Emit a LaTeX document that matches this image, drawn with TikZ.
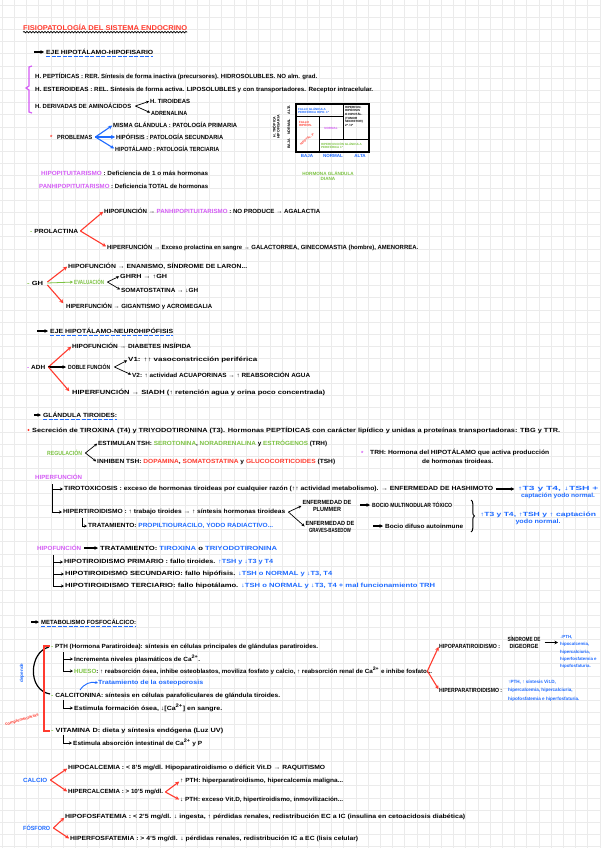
\documentclass[tikz,border=0pt]{standalone}
\usepackage{fontspec}
\setmainfont{Liberation Sans}
\usepackage{graphicx}
\usetikzlibrary{arrows.meta, positioning, decorations.pathmorphing, decorations.pathreplacing, calc}

\definecolor{nred}{HTML}{FF3B2F}
\definecolor{nblue}{HTML}{1F6BFF}
\definecolor{ngreen}{HTML}{7CC242}
\definecolor{npurp}{HTML}{D45CF5}
\definecolor{gridc}{HTML}{EBEBEB}

\newcommand{\nf}{\fontsize{6}{7}\selectfont\bfseries}
\newcommand{\tf}{\fontsize{3}{3.6}\selectfont\bfseries}
\newcommand{\fitto}[2]{\resizebox{#1pt}{\height}{#2}}

\tikzset{
  txt/.style={anchor=west, inner sep=0pt, font=\nf},
  redarr/.style={nred, line width=1.1pt, shorten >=1pt, -{Stealth[length=4pt, width=4pt]}},
  bluearr/.style={nblue, line width=1.1pt, shorten >=1pt, -{Stealth[length=4pt, width=4pt]}},
  grnarr/.style={ngreen, line width=0.8pt, shorten >=1pt, -{Stealth[length=3pt, width=3pt]}},
  blkarr/.style={black, line width=0.7pt, shorten >=1pt, -{Stealth[length=3pt, width=3pt]}},
  headarr/.style={black, line width=1.1pt, shorten >=2pt, -{Stealth[length=3.5pt, width=3.5pt]}},
  uline/.style={nblue, line width=1pt, dash pattern=on 4pt off 1.5pt},
}

\begin{document}
\begin{tikzpicture}[x=1pt, y=-1pt]
\useasboundingbox (0,0) rectangle (601,848);
\fill[white] (0,0) rectangle (601,848);
% cuadricula
\foreach \gx in {0,...,49} \draw[gridc, line width=0.8pt] ({2.2+12.2*\gx},0) -- ({2.2+12.2*\gx},848);
\foreach \gy in {0,...,69} \draw[gridc, line width=0.8pt] (0,{5+12.2*\gy}) -- (601,{5+12.2*\gy});

% titulo
\node[txt, font=\fontsize{7}{8}\selectfont\bfseries, nred] (title) at (23,27) {\fitto{164}{FISIOPATOLOGÍA DEL SISTEMA ENDOCRINO}};
\draw[line width=0.7pt, decorate, decoration={snake, amplitude=0.7pt, segment length=3pt}] ([yshift=-1.8pt]title.south west) -- ([yshift=-1.8pt]title.south east);

% eje hipotalamo-hipofisario
\coordinate (h1a) at (34,52);
\node[txt] (h1) at (46,52) {\fitto{107}{EJE HIPOTÁLAMO-HIPOFISARIO}};
\draw[headarr] (h1a) -- (h1.west);
\draw[uline] ([yshift=-1.5pt]h1.south west) -- ([yshift=-1.5pt]h1.south east);

\draw[npurp, line width=1.2pt] (32,66) -- (29,67) -- (29,86) -- (26,88) -- (29,90) -- (29,112) -- (32,113);
\node[txt] (hpep) at (35,76) {\fitto{282}{H. PEPTÍDICAS : RER. Síntesis de forma inactiva (precursores). HIDROSOLUBLES. NO alm. grad.}};
\node[txt] (hest) at (35,90) {\fitto{338}{H. ESTEROIDEAS : REL. Síntesis de forma activa. LIPOSOLUBLES y con transportadores. Receptor intracelular.}};
\node[txt] (hder) at (35,106) {\fitto{96}{H. DERIVADAS DE AMINOÁCIDOS}};
\node[txt] (htir) at (150,101) {\fitto{40}{H. TIROIDEAS}};
\node[txt] (hadr) at (151,113) {\fitto{36}{ADRENALINA}};
\draw[blkarr] ([xshift=4pt]hder.east) -- (htir.west);
\draw[blkarr] ([xshift=4pt]hder.east) -- (hadr.west);

\node[txt, nred] (star1) at (50,137) {*};
\node[txt] (prob) at (57,137) {\fitto{35}{PROBLEMAS}};
\node[txt] (pr1) at (113,125) {\fitto{124}{MISMA GLÁNDULA : PATOLOGÍA PRIMARIA}};
\node[txt] (pr2) at (116,137) {\fitto{107}{HIPÓFISIS : PATOLOGÍA SECUNDARIA}};
\node[txt] (pr3) at (115,149) {\fitto{104}{HIPOTÁLAMO : PATOLOGÍA TERCIARIA}};
\foreach \p in {pr1,pr2,pr3}
  \draw[bluearr] ([xshift=3pt]prob.east) -- (\p.west);

% tabla hormonas
\draw[line width=1.3pt] (296,104) rectangle (369,152);
\draw[line width=1pt] (296,117) -- (343,117) (343,104) -- (343,139)
  (319,117) -- (319,152) (319,139) -- (369,139);
\node[anchor=west, inner sep=0pt, font=\tf, nblue, align=left] (cblue) at (298,110.5) {FALLO GLÁNDULA\\PERIFÉRICA HIPO. 1ª};
\node[anchor=north west, inner sep=0pt, font=\tf, align=left] (cblack) at (345,106) {HIPERFUN.\\HIPÓFISIS\\O HIPOTÁL.\\(TUMOR\\SECRETOR)\\2ª / 3ª};
\node[anchor=north west, inner sep=0pt, font=\tf, nred, align=left] (cred) at (299,121) {FALLO\\HIPÓFIS.};
\node[inner sep=0pt, font=\tf, nred, rotate=40] (credr) at (307,139) {HIPOTÁL. 3ª};
\node[inner sep=0pt, font=\tf, npurp] (cpurp) at (331,128) {NORMAL};
\node[anchor=west, inner sep=0pt, font=\tf, ngreen, align=left] (cgreen) at (321,145.5) {HIPERFUNCIÓN GLÁNDULA\\PERIFÉRICA 1ª};
\node[inner sep=0pt, font=\fontsize{3.6}{4}\selectfont\bfseries, align=center, rotate=90] (ltrop) at (276,127) {H. TRÓPICA\\HIPOFISARIA};
\node[inner sep=0pt, font=\fontsize{3.6}{4}\selectfont\bfseries, rotate=90] (lalta) at (289,110) {ALTA};
\node[inner sep=0pt, font=\fontsize{3.6}{4}\selectfont\bfseries, rotate=90] (lnorm) at (289,127) {NORMAL};
\node[inner sep=0pt, font=\fontsize{3.6}{4}\selectfont\bfseries, rotate=90] (lbaja) at (289,144) {BAJA};
\node[inner sep=0pt, font=\fontsize{4.5}{5}\selectfont\bfseries, nblue] (bbaja) at (307,156) {BAJA};
\node[inner sep=0pt, font=\fontsize{4.5}{5}\selectfont\bfseries, nblue] (bnorm) at (333,156) {NORMAL};
\node[inner sep=0pt, font=\fontsize{4.5}{5}\selectfont\bfseries, nblue] (balta) at (360,156) {ALTA};
\node[inner sep=0pt, font=\fontsize{4.6}{5.8}\selectfont\bfseries, ngreen, align=center] (gdiana) at (328,176) {HORMONA GLÁNDULA\\DIANA};

% hipopituitarismo
\node[txt] (hipop) at (41,173) {\fitto{167}{\textcolor{npurp}{HIPOPITUITARISMO} : Deficiencia de 1 o más hormonas}};
\node[txt] (panh) at (39,186) {\fitto{169}{\textcolor{npurp}{PANHIPOPITUITARISMO} : Deficiencia TOTAL de hormonas}};

% prolactina
\node[txt] (prl) at (30,231) {\fitto{48}{\textcolor{ngreen}{-} PROLACTINA}};
\node[txt] (prlhipo) at (104,211) {\fitto{216}{HIPOFUNCIÓN → \textcolor{npurp}{PANHIPOPITUITARISMO} : NO PRODUCE → AGALACTIA}};
\node[txt] (prlhiper) at (107,247) {\fitto{311}{HIPERFUNCIÓN → Exceso prolactina en sangre → GALACTORREA, GINECOMASTIA (hombre), AMENORREA.}};
\draw[redarr] ([xshift=2pt]prl.east) -- (prlhipo.west);
\draw[redarr] ([xshift=2pt]prl.east) -- (prlhiper.west);

% GH
\node[txt] (gh) at (27,283) {\fitto{16}{\textcolor{ngreen}{-} GH}};
\node[txt] (ghhipo) at (68,266) {\fitto{179}{HIPOFUNCIÓN → ENANISMO, SÍNDROME DE LARON...}};
\node[txt, ngreen] (gheval) at (74,282) {\fitto{30}{EVALUACIÓN}};
\node[txt] (ghrh) at (120,276) {\fitto{47}{GHRH → ↑GH}};
\node[txt] (ghsom) at (121,290) {\fitto{77}{SOMATOSTATINA → ↓GH}};
\node[txt] (ghhiper) at (66,306) {\fitto{146}{HIPERFUNCIÓN → GIGANTISMO y ACROMEGALIA}};
\draw[redarr] ([xshift=4pt,yshift=1pt]gh.east) -- (ghhipo.west);
\draw[grnarr] ([xshift=4pt]gh.east) -- (gheval.west);
\draw[redarr] ([xshift=4pt,yshift=-2pt]gh.east) -- ([xshift=-2pt,yshift=2pt]ghhiper.west);
\draw[blkarr] ([xshift=3pt]gheval.east) -- (ghrh.west);
\draw[blkarr] ([xshift=3pt]gheval.east) -- (ghsom.west);

% eje hipotalamo-neurohipofisis
\coordinate (h2a) at (37,331);
\node[txt] (h2) at (50,331) {\fitto{123}{EJE HIPOTÁLAMO-NEUROHIPÓFISIS}};
\draw[headarr] (h2a) -- (h2.west);
\draw[uline] ([yshift=-1.5pt]h2.south west) -- ([yshift=-1.5pt]h2.south east);

% ADH
\node[txt] (adh) at (27,367) {\fitto{18}{\textcolor{npurp}{-} ADH}};
\node[txt] (adhhipo) at (72,346) {\fitto{119}{HIPOFUNCIÓN → DIABETES INSÍPIDA}};
\node[txt] (adhdob) at (68,367) {\fitto{42}{DOBLE FUNCIÓN}};
\node[txt] (adhv1) at (128,360) {\fitto{129}{V1: ↑↑ vasoconstricción periférica}};
\node[txt] (adhv2) at (132,375) {\fitto{178}{V2: ↑ actividad ACUAPORINAS → ↑ REABSORCIÓN AGUA}};
\node[txt] (adhhiper) at (72,392) {\fitto{253}{HIPERFUNCIÓN → SIADH (↑ retención agua y orina poco concentrada)}};
\draw[redarr] ([xshift=3pt]adh.east) -- (adhhipo.west);
\draw[headarr] ([xshift=3pt]adh.east) -- (adhdob.west);
\draw[redarr] ([xshift=3pt]adh.east) -- ([xshift=-2pt]adhhiper.west);
\draw[blkarr] ([xshift=4pt]adhdob.east) -- (adhv1.west);
\draw[blkarr] ([xshift=4pt]adhdob.east) -- (adhv2.west);

% glandula tiroides
\coordinate (h3a) at (34,415);
\node[txt] (h3) at (43,415) {\fitto{74}{GLÁNDULA TIROIDES:}};
\draw[headarr] (h3a) -- (h3.west);
\draw[uline] ([yshift=-1.5pt]h3.south west) -- ([yshift=-1.5pt]h3.south east);

\fill[nred] (28.5,430) circle (1.2pt);
\node[txt] (tsec) at (32,430) {\fitto{528}{Secreción de TIROXINA (T4) y TRIYODOTIRONINA (T3). Hormonas PEPTÍDICAS con carácter lipídico y unidas a proteínas transportadoras: TBG y TTR.}};
\node[txt, ngreen] (treg) at (47,453) {\fitto{35}{REGULACIÓN}};
\node[txt] (test) at (98,443) {\fitto{229}{ESTIMULAN TSH: \textcolor{ngreen}{SEROTONINA}, \textcolor{ngreen}{NORADRENALINA} y \textcolor{ngreen}{ESTRÓGENOS} (TRH)}};
\node[txt] (tinh) at (97,462) {\fitto{238}{INHIBEN TSH: \textcolor{nred}{DOPAMINA}, \textcolor{nred}{SOMATOSTATINA} y \textcolor{nred}{GLUCOCORTICOIDES} (TSH)}};
\draw[blkarr] ([xshift=3pt]treg.east) -- (test.west);
\draw[blkarr] ([xshift=3pt]treg.east) -- (tinh.west);
\node[txt, npurp] (trhstar) at (361,453) {*};
\node[txt] (trhnote) at (370,452) {\fitto{179}{TRH: Hormona del HIPOTÁLAMO que activa producción}};
\node[txt] (trhnote2) at (422,461) {\fitto{71}{de hormonas tiroideas.}};

% hiperfuncion tiroidea
\node[txt, npurp] (thiper) at (35,477) {\fitto{47}{HIPERFUNCIÓN}};
\coordinate (tree1) at (52,484);
\node[txt] (ttox) at (64,489) {\fitto{429}{TIROTOXICOSIS : exceso de hormonas tiroideas por cualquier razón (↑↑ actividad metabolismo). → ENFERMEDAD DE HASHIMOTO}};
\node[inner sep=0pt, font=\nf, nblue, align=center] (ttoxr) at (558,493) {\fitto{81}{↑T3 y T4, ↓TSH +}\\\fitto{74}{captación yodo normal.}};
\node[txt] (thip) at (63,512) {\fitto{222}{HIPERTIROIDISMO : ↑ trabajo tiroides → ↑ síntesis hormonas tiroideas}};
\draw[line width=1pt, -{Stealth[length=3pt, width=3pt]}, shorten >=1pt] (tree1) |- (ttox.west);
\draw[line width=1pt, -{Stealth[length=3pt, width=3pt]}, shorten >=1pt] (tree1) |- (thip.west);
\draw[headarr] ([xshift=3pt]ttox.east) -- ([xshift=-1pt]ttoxr.west |- ttox.east);
\node[inner sep=0pt, font=\nf, align=center] (plum) at (327,505.5) {\fitto{49}{ENFERMEDAD DE}\\\fitto{28}{PLUMMER}};
\node[inner sep=0pt, font=\nf, align=center] (grav) at (330,527) {\fitto{49}{ENFERMEDAD DE}\\\fitto{42}{GRAVES-BASEDOW}};
\node[txt] (bocio) at (372,505) {\fitto{80}{BOCIO MULTINODULAR TÓXICO}};
\node[txt] (autoin) at (385,526) {\fitto{78}{Bocio difuso autoinmune}};
\draw[blkarr] ([xshift=3pt]thip.east) -- (plum.west);
\draw[blkarr] ([xshift=3pt]thip.east) -- (grav.west);
\draw[headarr] ([xshift=-4pt]bocio.west) ++(-8,0) -- (bocio.west);
\draw[headarr] ([xshift=-4pt]autoin.west) ++(-8,0) -- (autoin.west);
\draw[decorate, decoration={brace, amplitude=3.5pt}, line width=1pt] (471,500) -- (471,532);
\node[inner sep=0pt, font=\nf, nblue, align=center] (hiperr) at (538,518) {\fitto{116}{↑T3 y T4, ↑TSH y ↑ captación}\\\fitto{45}{yodo normal.}};
\node[txt] (ttrat) at (88,526) {\fitto{185}{TRATAMIENTO: \textcolor{nblue}{PROPILTIOURACILO, YODO RADIACTIVO...}}};
\draw[line width=1pt, -{Stealth[length=3pt, width=3pt]}, shorten >=1pt] ([xshift=19pt, yshift=-3pt]thip.south west) |- (ttrat.west);

% hipofuncion tiroidea
\node[txt, npurp] (thipo) at (37,548) {\fitto{44}{HIPOFUNCIÓN}};
\node[txt] (thipot) at (100,548) {\fitto{177}{TRATAMIENTO: \textcolor{nblue}{TIROXINA} o \textcolor{nblue}{TRIYODOTIRONINA}}};
\draw[headarr] ([xshift=3pt]thipo.east) -- (thipot.west);
\coordinate (tree2) at (53,555);
\node[txt] (tp1) at (64,562) {\fitto{209}{HIPOTIROIDISMO PRIMARIO : fallo tiroides. \textcolor{nblue}{↑TSH y ↓T3 y T4}}};
\node[txt] (tp2) at (65,574) {\fitto{267}{HIPOTIROIDISMO SECUNDARIO: fallo hipófisis. \textcolor{nblue}{↓TSH o NORMAL y ↓T3, T4}}};
\node[txt] (tp3) at (65,586) {\fitto{370}{HIPOTIROIDISMO TERCIARIO: fallo hipotálamo. \textcolor{nblue}{↓TSH o NORMAL y ↓T3, T4 + mal funcionamiento TRH}}};
\foreach \t in {tp1,tp2,tp3}
  \draw[line width=1pt, -{Stealth[length=3pt, width=3pt]}, shorten >=1pt] (tree2) |- (\t.west);

% metabolismo fosfocalcico
\coordinate (h4a) at (31,622);
\node[txt] (h4) at (41,622) {\fitto{95}{METABOLISMO FOSFOCÁLCICO:}};
\draw[headarr] (h4a) -- (h4.west);
\draw[uline] ([yshift=-1.5pt]h4.south west) -- ([yshift=-1.5pt]h4.south east);

\draw[line width=1.2pt] (49,647) .. controls (29,652) and (27,690) .. (50,694);
\node[inner sep=0pt, font=\fontsize{4.6}{5}\selectfont\bfseries, nblue, rotate=90] (dep) at (22,673) {depende};
\draw[nred, line width=1.2pt] (50,646) -- (44,646) -- (44,731) -- (50,731);
\node[inner sep=0pt, font=\fontsize{4.2}{5}\selectfont\bfseries, nred, rotate=16] (compl) at (22,720) {complementarias};

\node[txt] (pth) at (51,647) {\fitto{267}{\textcolor{ngreen}{-} PTH (Hormona Paratiroidea): síntesis en células principales de glándulas paratiroides.}};
\coordinate (pthl) at (63,652);
\node[txt] (pth1) at (74,659) {\fitto{126}{Incrementa niveles plasmáticos de Ca\textsuperscript{2+}.}};
\node[txt] (pth2) at (74,671) {\fitto{358}{\textcolor{ngreen}{HUESO}: ↑ reabsorción ósea, inhibe osteoblastos, moviliza fosfato y calcio, ↑ reabsorción renal de Ca\textsuperscript{2+} e inhibe fosfato...}};
\draw[line width=1pt, -{Stealth[length=3pt, width=3pt]}, shorten >=1pt] (pthl) |- (pth1.west);
\draw[line width=1pt, -{Stealth[length=3pt, width=3pt]}, shorten >=1pt] (pthl) |- (pth2.west);
\node[txt, nblue] (osteo) at (98,683) {\fitto{105}{Tratamiento de la osteoporosis}};
\coordinate (osteoa) at (80,690);
\draw[nblue, line width=0.9pt, -{Stealth[length=3pt, width=3pt]}] (osteoa) to[bend left=35] (osteo.west);

\node[txt] (calc) at (51,696) {\fitto{229}{\textcolor{ngreen}{-} CALCITONINA: síntesis en células parafoliculares de glándula tiroides.}};
\node[txt] (calc1) at (74,708) {\fitto{148}{Estimula formación ósea, ↓[Ca\textsuperscript{2+}] en sangre.}};
\draw[line width=1pt, -{Stealth[length=3pt, width=3pt]}, shorten >=1pt] ([xshift=12pt, yshift=-1pt]calc.south west) |- (calc1.west);
\node[txt] (vitd) at (51,731) {\fitto{172}{\textcolor{ngreen}{-} VITAMINA D: dieta y síntesis endógena (Luz UV)}};
\node[txt] (vitd1) at (73,743) {\fitto{129}{Estimula absorción intestinal de Ca\textsuperscript{2+} y P}};
\draw[line width=1pt, -{Stealth[length=3pt, width=3pt]}, shorten >=1pt] ([xshift=12pt, yshift=-1pt]vitd.south west) |- (vitd1.west);

% paratiroides
\node[txt] (hypopara) at (439,646) {\fitto{61}{HIPOPARATIROIDISMO :}};
\node[inner sep=0pt, font=\nf, align=center] (digeo) at (524,642.5) {\fitto{33}{SÍNDROME DE}\\\fitto{29}{DIGEORGE}};
\node[anchor=north west, inner sep=0pt, font=\fontsize{4.4}{7.2}\selectfont\bfseries, nblue, align=left] (hypopr) at (560,635.5) {↓PTH,\\hipocalcemia,\\hipercalciuria,\\hiperfosfatemia e\\hipofosfaturia.};
\draw[headarr] ([xshift=4pt]digeo.east) -- ([yshift=0pt]hypopr.west |- digeo.east);
\node[txt] (hyperpara) at (439,690) {\fitto{63}{HIPERPARATIROIDISMO :}};
\node[anchor=north west, inner sep=0pt, font=\fontsize{4.6}{8.5}\selectfont\bfseries, nblue, align=left] (hyperpr) at (508,679.5) {↑PTH, ↑ síntesis Vit.D,\\hipercalcemia, hipercalciuria,\\hipofosfatemia e hiperfosfaturia.};
\draw[redarr] ([xshift=-5pt]pth2.east) -- (hypopara.west);
\draw[redarr] ([xshift=-5pt]pth2.east) -- (hyperpara.west);

% calcio
\node[txt, nblue] (ca) at (23,780) {\fitto{24}{CALCIO}};
\node[txt] (hypoca) at (68,768) {\fitto{257}{HIPOCALCEMIA : < 8'5 mg/dl. Hipoparatiroidismo o déficit Vit.D → RAQUITISMO}};
\node[txt] (hyperca) at (68,792) {\fitto{95}{HIPERCALCEMIA : > 10'5 mg/dl.}};
\node[txt] (hyperca1) at (180,781) {\fitto{163}{↑ PTH: hiperparatiroidismo, hipercalcemia maligna...}};
\node[txt] (hyperca2) at (180,800) {\fitto{163}{↓ PTH: exceso Vit.D, hipertiroidismo, inmovilización...}};
\draw[redarr] ([xshift=3pt]ca.east) -- (hypoca.west);
\draw[redarr] ([xshift=3pt]ca.east) -- (hyperca.west);
\draw[redarr] ([xshift=2pt]hyperca.east) -- (hyperca1.west);
\draw[redarr] ([xshift=2pt]hyperca.east) -- (hyperca2.west);

% fosforo
\node[txt, nblue] (fos) at (23,828) {\fitto{27}{FÓSFORO}};
\node[txt] (hypof) at (65,817) {\fitto{400}{HIPOFOSFATEMIA : < 2'5 mg/dl. ↓ ingesta, ↑ pérdidas renales, redistribución EC a IC (insulina en cetoacidosis diabética)}};
\node[txt] (hyperf) at (70,839) {\fitto{288}{HIPERFOSFATEMIA : > 4'5 mg/dl. ↓ pérdidas renales, redistribución IC a EC (lisis celular)}};
\draw[redarr] ([xshift=3pt]fos.east) -- (hypof.west);
\draw[redarr] ([xshift=3pt]fos.east) -- (hyperf.west);
\end{tikzpicture}
\end{document}
